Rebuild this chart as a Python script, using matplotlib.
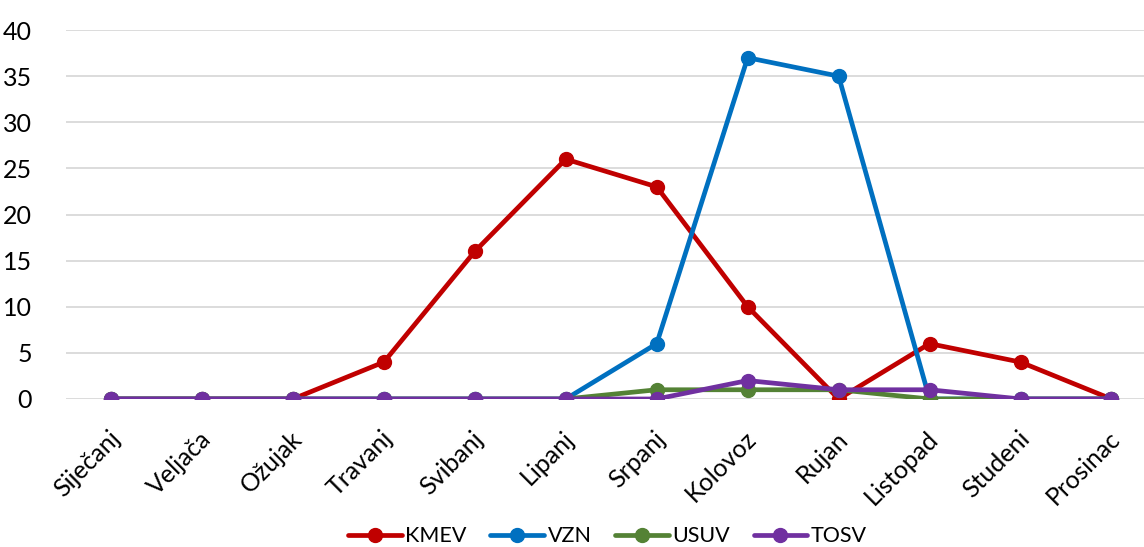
import matplotlib
matplotlib.use('Agg')
import matplotlib.pyplot as plt
import matplotlib.transforms as mtransforms

plt.rcParams['font.family'] = ['Lato', 'DejaVu Sans']

months = ['Siječanj', 'Veljača', 'Ožujak', 'Travanj', 'Svibanj', 'Lipanj',
          'Srpanj', 'Kolovoz', 'Rujan', 'Listopad', 'Studeni', 'Prosinac']
kmev = [0, 0, 0, 4, 16, 26, 23, 10, 0, 6, 4, 0]
vzn  = [0, 0, 0, 0, 0, 0, 6, 37, 35, 0, 0, 0]
usuv = [0, 0, 0, 0, 0, 0, 1, 1, 1, 0, 0, 0]
tosv = [0, 0, 0, 0, 0, 0, 0, 2, 1, 1, 0, 0]

series = [('KMEV', kmev, '#C00000'),
          ('VZN', vzn, '#0070C0'),
          ('USUV', usuv, '#548235'),
          ('TOSV', tosv, '#7030A0')]

fig = plt.figure(figsize=(11.44, 5.47), dpi=100)
ax = fig.add_axes([0.0573, 0.2706, 0.954, 0.6745])

x = list(range(len(months)))
for name, vals, col in series:
    ax.plot(x, vals, color=col, lw=3.4, marker='o', ms=10, label=name,
            solid_capstyle='round', zorder=3)

ax.set_xlim(-0.5, len(months) - 0.5)
ax.set_ylim(0, 40)
ax.set_yticks(range(0, 41, 5))
ax.yaxis.grid(True, color='#D9D9D9', lw=1.3, zorder=0)
ax.set_axisbelow(True)
for s in ax.spines.values():
    s.set_visible(False)
ax.tick_params(axis='both', length=0, labelsize=18)
ax.tick_params(axis='y', pad=24)
ax.set_xticks(x)
ax.set_xticklabels(months, rotation=45, ha='right', rotation_mode='anchor')
ax.tick_params(axis='x', pad=20)
shift = mtransforms.ScaledTranslation(-3 / 100, 0, fig.dpi_scale_trans)
for lab in ax.get_xticklabels():
    lab.set_transform(lab.get_transform() + shift)

fig.legend(loc='center', bbox_to_anchor=(0.531, 0.02), ncol=4,
           frameon=False, fontsize=15.5, handlelength=2.5, columnspacing=1.1,
           handletextpad=0.15)

fig.savefig('out.png', dpi=100)
